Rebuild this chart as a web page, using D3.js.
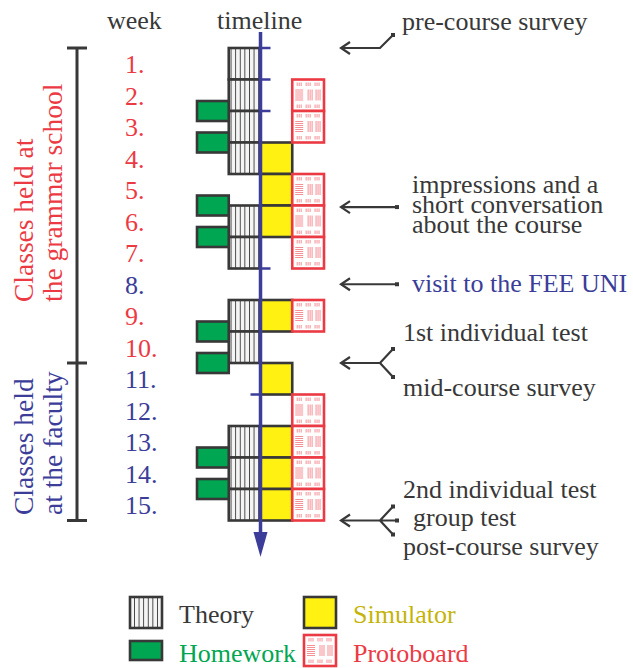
<!DOCTYPE html>
<html>
<head>
<meta charset="utf-8">
<script src="https://cdn.jsdelivr.net/npm/d3@7"></script>
<style>
  body { margin: 0; background: #fff; }
  svg text { font-family: "Liberation Serif", "Times New Roman", serif; }
</style>
</head>
<body>
<svg id="chart" width="633" height="668"></svg>
<script>

/////////////////////////////////
// DATA
//////////////////////////////////

var weekLabels = ["1.", "2.", "3.", "4.", "5.", "6.", "7.", "8.", "9.", "10.", "11.", "12.", "13.", "14.", "15."];
var weekNumbers = [1, 2, 3, 4, 5, 6, 7, 8, 9, 10, 11, 12, 13, 14, 15];
var facultyWeeks = [8, 11, 12, 13, 14, 15];   // the rest are at the grammar school

var theoryWeeks = [1, 2, 3, 4, 6, 7, 9, 10, 13, 14, 15];
var simulatorWeeks = [4, 5, 6, 9, 11, 13, 14, 15];
var protoboardWeeks = [2, 3, 5, 6, 7, 9, 12, 13, 14, 15];
var homeworkAfterWeeks = [2, 3, 5, 6, 9, 10, 13, 14]; // handed out at the end of the week

// small blue ticks on the timeline (start of week, side)
var timelineTicks = [
  {week: 1, side: "right"},
  {week: 2, side: "right"},
  {week: 3, side: "right"},
  {week: 8, side: "right"},
  {week: 12, side: "left"}
];

var events = [
  {week: 1, shape: "bent", texts: ["pre-course survey"]},
  {week: 6.05, shape: "straight", texts: ["impressions and a", "short conversation", "about the course"]},
  {week: 8.5, shape: "straight", texts: ["visit to the FEE UNI"]},
  {week: 11, shape: "fork2", texts: ["1st individual test", "mid-course survey"]},
  {week: 16, shape: "fork3", texts: ["2nd individual test", "group test", "post-course survey"]}
];

var groupLabels = [
  {from: 1, to: 11, lines: ["Classes held at", "the grammar school"], place: "school"},
  {from: 11, to: 16, lines: ["Classes held", "at the faculty"], place: "faculty"}
];

var legendItems = ["Theory", "Simulator", "Homework", "Protoboard"];

/////////////////////////////////
// STYLE
//////////////////////////////////

var red = "#ec3a44";
var blue = "#3b3d98";
var dark = "#383838";
var green = "#00a651";
var yellow = "#fff212";

var activityColor = d3.scaleOrdinal()
  .domain(["Theory", "Simulator", "Homework", "Protoboard"])
  .range([dark, "#c4b40a", green, red]);

var placeColor = d3.scaleOrdinal()
  .domain(["school", "faculty"])
  .range([red, blue]);

var svg = d3.select("#chart");

// week -> y (top of that week's row)
var y = d3.scaleLinear()
  .domain([1, 16])
  .range([48, 520.5]);

// columns of the timetable
var x = d3.scaleBand()
  .domain(["Homework", "Theory", "Simulator", "Protoboard"])
  .range([197, 324]);

var axisX = x("Simulator");

/////////////////////////////////
// PATTERNS
//////////////////////////////////

var defs = svg.append("defs");

var theoryPattern = defs.append("pattern")
  .attr("id", "theory")
  .attr("patternUnits", "userSpaceOnUse")
  .attr("x", x("Theory"))
  .attr("width", 4.6)
  .attr("height", 10);
theoryPattern.append("rect").attr("width", 4.6).attr("height", 10).attr("fill", "#f4f4f4");
theoryPattern.append("line")
  .attr("x1", 2.3).attr("x2", 2.3).attr("y1", 0).attr("y2", 10)
  .attr("stroke", "#333").attr("stroke-width", 0.9);

// protoboard glyph: holes/lines drawn inside a cell
function drawProtoboard(g, x0, y0, w, h) {
  var s = w / 32;
  var tickX = [5, 7, 9, 14, 16, 18, 23, 25, 27];
  tickX.forEach(function(t) {
    g.append("line").attr("x1", x0 + t * s).attr("x2", x0 + t * s)
      .attr("y1", y0 + 3).attr("y2", y0 + 6.5);
    g.append("line").attr("x1", x0 + t * s).attr("x2", x0 + t * s)
      .attr("y1", y0 + h - 6.5).attr("y2", y0 + h - 3);
  });
  [10.5, 12.5, 14.5, 16.5, 18.5, 20.5].forEach(function(t) {
    g.append("line").attr("x1", x0 + 3).attr("x2", x0 + 11 * s)
      .attr("y1", y0 + t).attr("y2", y0 + t);
  });
  [16, 18, 20, 24, 26, 28].forEach(function(t) {
    g.append("line").attr("x1", x0 + t * s).attr("x2", x0 + t * s)
      .attr("y1", y0 + 10).attr("y2", y0 + 21);
  });
}

/////////////////////////////////
// HEADERS AND WEEK LABELS
//////////////////////////////////

svg.append("text").attr("x", 107).attr("y", 29)
  .attr("font-size", 26).attr("fill", dark).text("week");
svg.append("text").attr("x", 217).attr("y", 29)
  .attr("font-size", 26).attr("fill", dark).text("timeline");

svg.selectAll(".weekLabel")
  .data(weekNumbers)
  .enter()
  .append("text")
    .attr("class", "weekLabel")
    .attr("x", 125)
    .attr("y", function(d) { return y(d) + 25; })
    .attr("font-size", 26)
    .attr("fill", function(d) {
      return placeColor(facultyWeeks.indexOf(d) >= 0 ? "faculty" : "school");
    })
    .text(function(d, i) { return weekLabels[i]; });

/////////////////////////////////
// BRACKET AND GROUP LABELS
//////////////////////////////////

var bracketX = 77;
svg.append("line")
  .attr("x1", bracketX).attr("x2", bracketX)
  .attr("y1", y(1)).attr("y2", y(16))
  .attr("stroke", dark).attr("stroke-width", 3);

svg.selectAll(".bracketTick")
  .data([1, 11, 16])
  .enter()
  .append("line")
    .attr("class", "bracketTick")
    .attr("x1", bracketX - 10).attr("x2", bracketX + 10)
    .attr("y1", function(d) { return y(d); })
    .attr("y2", function(d) { return y(d); })
    .attr("stroke", dark).attr("stroke-width", 3);

var groupStartY = {school: 302, faculty: 515};
groupLabels.forEach(function(gl) {
  gl.lines.forEach(function(line, i) {
    svg.append("text")
      .attr("transform", "translate(" + (33 + i * 29) + "," + groupStartY[gl.place] + ") rotate(-90)")
      .attr("font-size", 27.5)
      .attr("fill", placeColor(gl.place))
      .text(line);
  });
});

/////////////////////////////////
// TIMETABLE BLOCKS
//////////////////////////////////

var blocks = svg.append("g");

blocks.selectAll(".theory")
  .data(theoryWeeks)
  .enter()
  .append("rect")
    .attr("class", "theory")
    .attr("x", x("Theory"))
    .attr("y", function(d) { return y(d); })
    .attr("width", x.bandwidth())
    .attr("height", function(d) { return y(d + 1) - y(d); })
    .attr("fill", "url(#theory)")
    .attr("stroke", dark).attr("stroke-width", 2.6);

blocks.selectAll(".simulator")
  .data(simulatorWeeks)
  .enter()
  .append("rect")
    .attr("class", "simulator")
    .attr("x", x("Simulator"))
    .attr("y", function(d) { return y(d); })
    .attr("width", x.bandwidth())
    .attr("height", function(d) { return y(d + 1) - y(d); })
    .attr("fill", yellow)
    .attr("stroke", dark).attr("stroke-width", 2.6);

var proto = blocks.selectAll(".protoboard")
  .data(protoboardWeeks)
  .enter()
  .append("g")
    .attr("class", "protoboard");

proto.append("rect")
  .attr("x", x("Protoboard"))
  .attr("y", function(d) { return y(d); })
  .attr("width", x.bandwidth())
  .attr("height", function(d) { return y(d + 1) - y(d); })
  .attr("fill", "#fff")
  .attr("stroke", red).attr("stroke-width", 2.6);

proto.each(function(d) {
  var g = d3.select(this).append("g")
    .attr("stroke", red).attr("stroke-width", 0.7).attr("opacity", 0.8);
  drawProtoboard(g, x("Protoboard"), y(d), x.bandwidth(), y(d + 1) - y(d));
});

var hwHeight = 20;
blocks.selectAll(".homework")
  .data(homeworkAfterWeeks)
  .enter()
  .append("rect")
    .attr("class", "homework")
    .attr("x", x("Homework"))
    .attr("y", function(d) { return y(d + 1) - hwHeight / 2; })
    .attr("width", x.bandwidth())
    .attr("height", hwHeight)
    .attr("fill", green)
    .attr("stroke", dark).attr("stroke-width", 2.6);

/////////////////////////////////
// TIMELINE AXIS
//////////////////////////////////

svg.append("line")
  .attr("x1", axisX).attr("x2", axisX)
  .attr("y1", 32).attr("y2", 536)
  .attr("stroke", blue).attr("stroke-width", 3.5);

svg.append("path")
  .attr("d", "M" + (axisX - 7) + ",532 L" + (axisX + 7) + ",532 L" + axisX + ",557 Z")
  .attr("fill", blue);

svg.selectAll(".tlTick")
  .data(timelineTicks)
  .enter()
  .append("line")
    .attr("class", "tlTick")
    .attr("x1", axisX)
    .attr("x2", function(d) { return d.side == "right" ? axisX + 10 : axisX - 10; })
    .attr("y1", function(d) { return y(d.week); })
    .attr("y2", function(d) { return y(d.week); })
    .attr("stroke", blue).attr("stroke-width", 2.5);

/////////////////////////////////
// EVENTS ON THE RIGHT
//////////////////////////////////

var arrowTip = 341;
var arrows = svg.append("g")
  .attr("stroke", dark).attr("stroke-width", 2.2).attr("fill", "none");

function dot(px, py) {
  svg.append("rect").attr("x", px - 2).attr("y", py - 2)
    .attr("width", 4).attr("height", 4).attr("fill", dark);
}

// text placement for each event (dx from arrow tip, dy from arrow line)
var textPlacement = {
  bent: [[61, -18]],
  straight: [[71, -14], [71, 6], [71, 26]],
  visit: [[71, 8]],
  fork2: [[62, -22], [62, 33]],
  fork3: [[62, -23], [72, 5], [62, 34]]
};

events.forEach(function(e) {
  var ay = y(e.week);
  arrows.append("path")
    .attr("d", "M" + (arrowTip + 9) + "," + (ay - 6) + " L" + arrowTip + "," + ay + " L" + (arrowTip + 9) + "," + (ay + 6));

  var place;
  if (e.shape == "bent") {
    arrows.append("path").attr("d", "M" + arrowTip + "," + ay + " H380 L393," + (ay - 13));
    dot(393, ay - 13);
    place = textPlacement.bent;
  } else if (e.shape == "straight") {
    arrows.append("path").attr("d", "M" + arrowTip + "," + ay + " H397");
    dot(397, ay);
    place = e.texts.length > 1 ? textPlacement.straight : textPlacement.visit;
  } else if (e.shape == "fork2") {
    arrows.append("path").attr("d", "M" + arrowTip + "," + ay + " H380 L393," + (ay - 14) + " M380," + ay + " L393," + (ay + 14));
    dot(393, ay - 14); dot(393, ay + 14);
    place = textPlacement.fork2;
  } else {
    arrows.append("path").attr("d", "M" + arrowTip + "," + ay + " H397 M380," + ay + " L393," + (ay - 14) + " M380," + ay + " L393," + (ay + 14));
    dot(393, ay - 14); dot(393, ay + 14); dot(397, ay);
    place = textPlacement.fork3;
  }

  e.texts.forEach(function(t, i) {
    svg.append("text")
      .attr("x", arrowTip + place[i][0])
      .attr("y", ay + place[i][1])
      .attr("font-size", 26)
      .attr("fill", t.indexOf("FEE") >= 0 ? blue : dark)
      .text(t);
  });
});

/////////////////////////////////
// LEGEND
//////////////////////////////////

var legendPos = {
  Theory: {x: 130, y: 597, h: 31},
  Simulator: {x: 304, y: 597, h: 31},
  Homework: {x: 130, y: 641, h: 19},
  Protoboard: {x: 304, y: 635, h: 31}
};
var legendBox = 32;

legendItems.forEach(function(name) {
  var p = legendPos[name];
  var fill = {Theory: "url(#theory)", Simulator: yellow, Homework: green, Protoboard: "#fff"}[name];
  svg.append("rect")
    .attr("x", p.x).attr("y", p.y)
    .attr("width", legendBox).attr("height", p.h)
    .attr("fill", fill)
    .attr("stroke", name == "Protoboard" ? red : dark)
    .attr("stroke-width", 2.6);
  if (name == "Protoboard") {
    var g = svg.append("g").attr("stroke", red).attr("stroke-width", 0.7).attr("opacity", 0.8);
    drawProtoboard(g, p.x, p.y, legendBox, p.h);
  }
  svg.append("text")
    .attr("x", p.x + 49)
    .attr("y", name == "Theory" || name == "Simulator" ? 623 : 662)
    .attr("font-size", 26)
    .attr("fill", activityColor(name))
    .text(name);
});

</script>
</body>
</html>
